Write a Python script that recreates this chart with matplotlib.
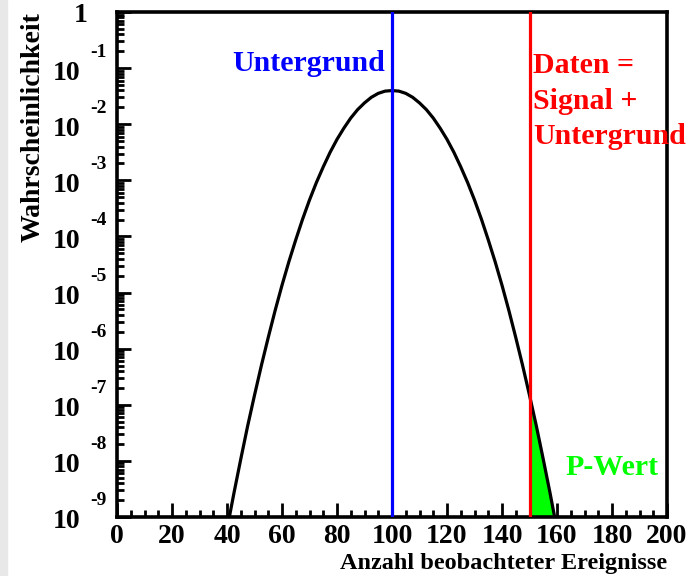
import numpy as np
import matplotlib
matplotlib.use("Agg")
import matplotlib.pyplot as plt
import matplotlib.transforms as mtrans
from matplotlib.ticker import MultipleLocator, LogLocator, NullFormatter

plt.rcParams['font.family'] = ['Liberation Serif', 'DejaVu Serif']
plt.rcParams['font.weight'] = 'bold'

# Werte (log10 der Wahrscheinlichkeit)
n_events = [40, 42.5, 45, 47.5, 50, 52.5, 55, 57.5, 60, 62.5, 65, 67.5, 70, 72.5, 75, 77.5,
            80, 82.5, 85, 87.5, 90, 92.5, 95, 97.5, 100, 102.5, 105, 107.5, 110, 112.5,
            115, 117.5, 120, 122.5, 125, 127.5, 130, 132.5, 135, 137.5, 140, 142.5,
            145, 147.5, 150, 152.5, 155, 157.5, 160]
log_prob = [-9.22, -8.58, -7.97, -7.38, -6.83, -6.30, -5.80, -5.32, -4.87, -4.45, -4.06, -3.69,
            -3.35, -3.04, -2.76, -2.50, -2.27, -2.07, -1.89, -1.74, -1.62, -1.52, -1.45, -1.41,
            -1.40, -1.41, -1.45, -1.52, -1.62, -1.74, -1.89, -2.07, -2.27, -2.50, -2.76, -3.04,
            -3.35, -3.69, -4.06, -4.45, -4.87, -5.32, -5.80, -6.30, -6.83, -7.38, -7.97, -8.58,
            -9.22]
background = 100
data_obs = 150
exponents = [-1, -2, -3, -4, -5, -6, -7, -8, -9]
xticks = [0, 20, 40, 60, 80, 100, 120, 140, 160, 180, 200]

x = np.array(n_events)
y = 10.0 ** np.array(log_prob)

fig = plt.figure(figsize=(7, 5.76), dpi=100)
fig.patches.append(plt.Rectangle((0, 0), 7/700, 1, transform=fig.transFigure,
                                 color='#e8e8e8', zorder=0))
ax = fig.add_axes([117/700, 59/576, 550/700, 505/576])

ax.plot(x, y, color='k', lw=2.3, zorder=3)
m = x >= data_obs
ax.fill_between(x[m], 1e-12, y[m], color='#00ff00', lw=0, zorder=2)
ax.axvline(background, color='#0000ff', lw=2.3, zorder=4)
ax.axvline(data_obs, color='#ff0000', lw=2.3, zorder=4)

ax.set_yscale('log')
ax.set_xlim(0, 200)
ax.set_ylim(1e-9, 1)

for s in ax.spines.values():
    s.set_linewidth(2.6)

ax.xaxis.set_major_locator(MultipleLocator(20))
ax.xaxis.set_minor_locator(MultipleLocator(5))
ax.set_xticks(xticks)
ax.yaxis.set_major_locator(LogLocator(base=10, numticks=20))
ax.yaxis.set_minor_locator(LogLocator(base=10, subs=np.arange(2, 10), numticks=20))
ax.yaxis.set_major_formatter(NullFormatter())
ax.yaxis.set_minor_formatter(NullFormatter())
ax.tick_params(which='both', direction='in', top=False, right=False, width=2)
ax.tick_params(which='major', length=10)
ax.tick_params(which='minor', length=5)
ax.tick_params(axis='x', labelsize=20, pad=5)

# ROOT-artige y-Beschriftungen
yt = ax.get_yaxis_transform()
ax.text(-0.054, 1, '1', transform=mtrans.offset_copy(yt, fig, y=-3, units='dots'),
        ha='right', va='center', fontsize=20, fontweight='bold')
for e in exponents:
    ax.text(-0.067, 10.0 ** e, '10', transform=mtrans.offset_copy(yt, fig, y=-5, units='dots'),
            ha='right', va='center', fontsize=20, fontweight='bold')
    ax.text(-0.049, 10.0 ** e, str(e), transform=mtrans.offset_copy(yt, fig, y=16, units='dots'),
            ha='left', va='center', fontsize=14, fontweight='bold')

fig.text(33/700, 1 - 12/576, 'Wahrscheinlichkeit', rotation=90, ha='center', va='top',
         fontsize=20, fontweight='bold')
fig.text(667/700, 1 - 563/576, 'Anzahl beobachteter Ereignisse', ha='right', va='center',
         fontsize=17.5, fontweight='bold')

ax.text(42, 10 ** -0.91, 'Untergrund', color='#0000ff', ha='left', va='center',
        fontsize=21.5, fontweight='bold')
ax.text(151.3, 10 ** -1.59, 'Daten =\nSignal +\nUntergrund', color='#ff0000',
        ha='left', va='center', fontsize=21.5, fontweight='bold', linespacing=1.4)
ax.text(163, 10 ** -8.11, 'P-Wert', color='#00ff00', ha='left', va='center',
        fontsize=21.5, fontweight='bold')

fig.savefig('out.png', dpi=100)
